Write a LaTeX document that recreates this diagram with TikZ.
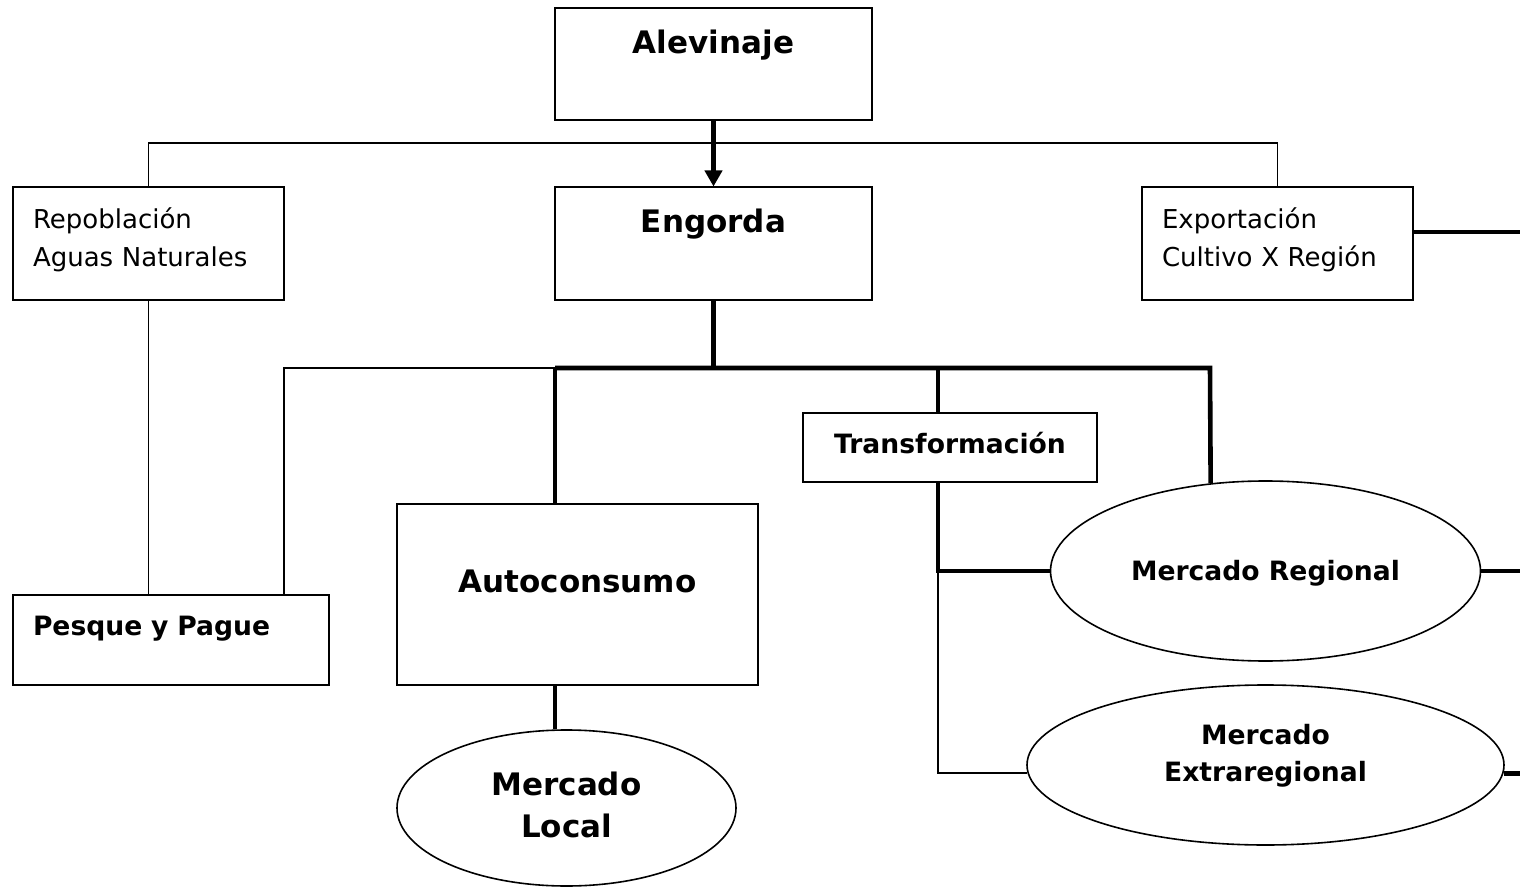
\documentclass[tikz,border=0pt]{standalone}
\usepackage{fontspec}
\setmainfont{DejaVu Sans}
\usetikzlibrary{shapes.geometric,arrows.meta,positioning}
\tikzstyle{titlebox} = [rectangle, draw=black, line width=1pt, inner sep=0pt, text centered, font=\bfseries\fontsize{15.5}{21}\selectfont]
\tikzstyle{notebox} = [rectangle, draw=black, line width=1pt, inner xsep=10pt, inner ysep=0pt, align=left, font=\fontsize{13}{19}\selectfont]
\tikzstyle{smallbox} = [rectangle, draw=black, line width=1pt, inner xsep=10pt, inner ysep=0pt, font=\bfseries\fontsize{13.3}{18.5}\selectfont]
\tikzstyle{market} = [ellipse, draw=black, line width=0.8pt, inner sep=0pt, align=center, font=\bfseries\fontsize{13.3}{18.5}\selectfont]
\tikzstyle{arrow} = [line width=2.2pt,-{Triangle[length=8pt,width=8.5pt]}]
\tikzstyle{thickline} = [line width=2.3pt]
\tikzstyle{thinline} = [line width=0.85pt]

\begin{document}
\begin{tikzpicture}[x=0.5pt,y=-0.5pt]
\useasboundingbox (0,0) rectangle (1520,887);
 \node (ale) [titlebox, minimum width=158.5pt, text height=22.65pt, text depth=33.35pt] at (713.5,64) {Alevinaje};
 \node (eng) [titlebox, minimum width=158.5pt, text height=22.4pt, text depth=34.1pt] at (713.5,244) {Engorda};
 \node (rep) [notebox, text width=115.5pt, text height=20.4pt, text depth=36.1pt] at (148.5,244) {Repoblación\\Aguas Naturales};
 \node (exp) [notebox, text width=115.5pt, text height=20.4pt, text depth=36.1pt] at (1277.5,244) {Exportación\\Cultivo X Región};
 \node (trans) [smallbox, inner xsep=0pt, minimum width=147pt, text height=19.9pt, text depth=14.1pt] at (950,447.5) {Transformación};
 \node (auto) [titlebox, minimum width=180.5pt, text height=44pt, text depth=46.25pt] at (577.5,594.25) {Autoconsumo};
 \node (pes) [smallbox, text width=138pt, text height=20.25pt, text depth=24.75pt] at (171,639.5) {Pesque y Pague};
\node (reg) [market, minimum width=215pt, minimum height=90pt, text height=12pt, text depth=2.3pt] at (1265.5,571) {Mercado Regional};
\node (extra) [market, minimum width=238.5pt, minimum height=80pt, text height=28.5pt, text depth=12.5pt] at (1265.5,765) {Mercado\\Extraregional};
\node (loc) [market, font=\bfseries\fontsize{15.5}{21}\selectfont, minimum width=169.5pt, minimum height=78pt, text height=31pt, text depth=2pt] at (566.5,808) {Mercado\\Local};
 % junctions and free ends
 \coordinate (top) at (713.5,143);
 \coordinate (hub) at (713.5,368);
 \coordinate (hubP) at (284,368);
 \coordinate (hubL) at (555,368);
 \coordinate (hubT) at (938,368);
 \coordinate (hubR) at (1210,368);
 \coordinate (edge) at (1520,0);
\draw [arrow] (ale.south) -- (eng.north);
\draw [thinline] (rep.north) |- (top) -| (exp.north);
\draw [thickline] (exp.5) -- (exp.5 -| edge);
\draw [thickline] (eng.south) -- (hub);
\draw [thickline] (hubL) -- (hubR) -- (reg.122);
\draw [thinline] (hubL) -- (hubP) -- (hubP |- pes.north);
\draw [thinline] (rep.south) -- (rep.south |- pes.north);
\draw [thickline] (hubL) -- (hubL |- auto.north);
\draw [thickline] (hubL |- auto.south) -- (hubL |- loc.north);
\draw [thickline] (hubT) -- (hubT |- trans.north);
\draw [thickline] (hubT |- trans.south) |- (reg.west);
\draw [thinline] (hubT |- reg.west) |- (extra.182);
\draw [thickline] (reg.east) -- (reg.east -| edge);
\draw [thickline] (extra.358) -- (extra.358 -| edge);
  \end{tikzpicture}
\end{document}
